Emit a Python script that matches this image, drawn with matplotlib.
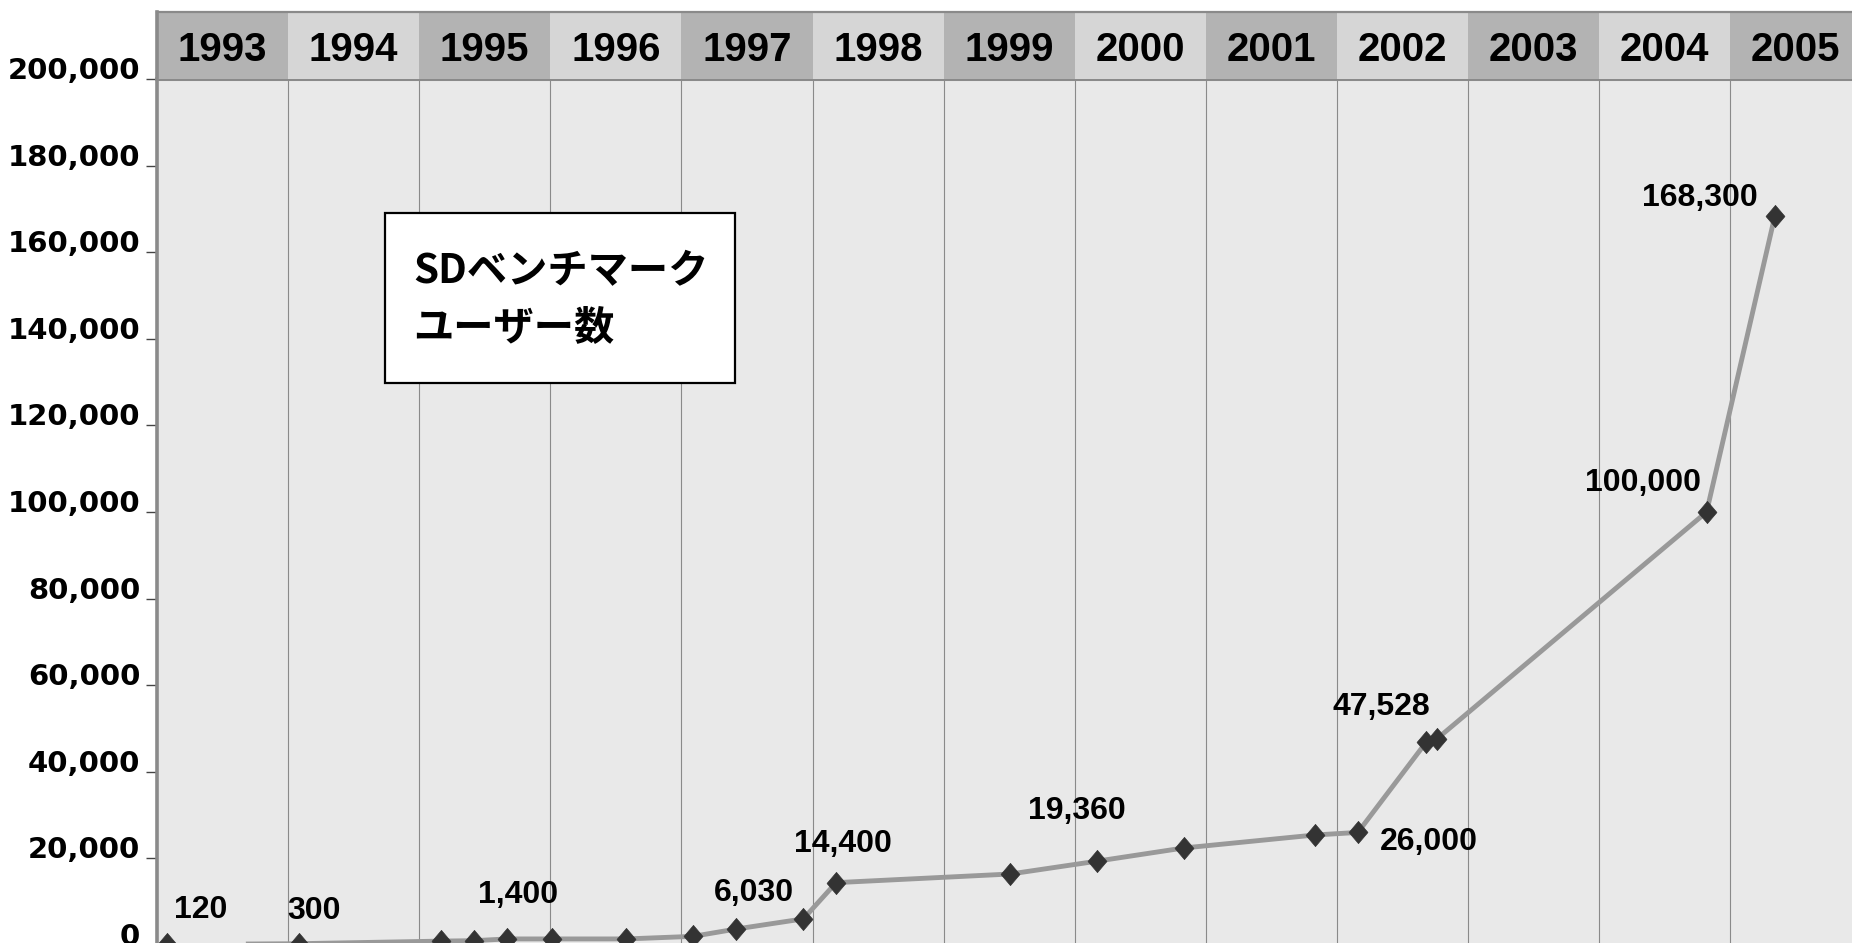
import matplotlib
matplotlib.use("Agg")
import matplotlib.pyplot as plt
from matplotlib.patches import Rectangle
from matplotlib.path import Path

# user counts (fractional year position, users)
when = [1993.08, 1994.08, 1995.17, 1995.42, 1995.67, 1996.01, 1996.58, 1997.09, 1997.42, 1997.93,
        1998.18, 1999.51, 2000.17, 2000.83, 2001.83, 2002.16, 2002.68, 2002.76, 2004.82, 2005.34]
users = [120, 300, 900, 1000, 1400, 1400, 1400, 2000, 3700, 6030,
         14400, 16400, 19360, 22400, 25400, 26000, 46800, 47528, 100000, 168300]

# which points get a value label, and where the label sits (pixels from the point)
labelled = [0, 1, 4, 9, 10, 12, 15, 17, 18, 19]
label_offsets = [(33, 34), (15, 33), (11, 44), (-49, 26), (7, 39),
                 (-20, 50), (71, -10), (-55, 32), (-64, 29), (-75, 18)]

years = list(range(1993, 2006))
y_ticks = list(range(0, 200001, 20000))
title_lines = ["SDベンチマーク", "ユーザー数"]

W, H = 1852, 943
fig = plt.figure(figsize=(W / 100, H / 100), dpi=100)

left = 157 / W
top = 1 - 79 / H
bottom = 1 - 945 / H
ax = fig.add_axes([left, bottom, 1 - left, top - bottom])
hx = fig.add_axes([left, top, 1 - left, (79 - 12) / H])

x_max = 1993 + (W - 157) / 131.1
bold = dict(family=["Liberation Sans", "DejaVu Sans"], fontweight="bold")

# plot area
ax.set_facecolor("#e9e9e9")
ax.set_xlim(1993, x_max)
ax.set_ylim(0, 200000)
for yr in years[1:]:
    ax.axvline(yr, color="#8a8a8a", lw=0.8, zorder=1)

diamond = Path([(0, 1), (0.85, 0), (0, -1), (-0.85, 0), (0, 1)],
               [Path.MOVETO, Path.LINETO, Path.LINETO, Path.LINETO, Path.CLOSEPOLY])
ax.plot(when, users, color="#999999", lw=3.5, zorder=3,
        marker=diamond, ms=16, mfc="#333333", mec="#333333", mew=0.5)

for i, (dx, dy) in zip(labelled, label_offsets):
    ax.annotate(f"{users[i]:,}", (when[i], users[i]), xytext=(dx, dy),
                textcoords="offset pixels", ha="center", va="center",
                fontsize=23, zorder=4, **bold)

ax.set_xticks([])
ax.set_yticks(y_ticks)
ax.set_yticklabels([f"{v:,}" for v in y_ticks], family="DejaVu Sans",
                   fontweight="bold", fontsize=21)
for lab in ax.get_yticklabels():
    lab.set_va("baseline")
ax.tick_params(axis="y", length=8, width=1, color="#444444", pad=4)
for side in ("right", "bottom"):
    ax.spines[side].set_visible(False)
ax.spines["left"].set_color("#8a8a8a")
ax.spines["left"].set_linewidth(2.6)
ax.spines["top"].set_color("#8a8a8a")
ax.spines["top"].set_linewidth(2.2)

# year header band
hx.set_xlim(1993, x_max)
hx.set_ylim(0, 1)
for k, yr in enumerate(years):
    shade = "#b3b3b3" if k % 2 == 0 else "#d6d6d6"
    hx.add_patch(Rectangle((yr, 0), 1, 1, facecolor=shade, edgecolor="none"))
    hx.text(yr + 0.5, 0.44, str(yr), ha="center", va="center", fontsize=29, **bold)
hx.set_xticks([])
hx.set_yticks([])
for side in ("right", "bottom"):
    hx.spines[side].set_visible(False)
hx.spines["top"].set_color("#8a8a8a")
hx.spines["top"].set_linewidth(1.6)
hx.spines["left"].set_color("#8a8a8a")
hx.spines["left"].set_linewidth(2.6)

# title box
fig.patches.append(Rectangle((385 / W, 1 - 383 / H), 350 / W, 170 / H,
                             transform=fig.transFigure, facecolor="white",
                             edgecolor="black", lw=1.6, zorder=5))
for line, yy in zip(title_lines, (272, 328)):
    fig.text(413 / W, 1 - yy / H, line, ha="left", va="center", fontsize=29,
             fontweight="bold", family=["Noto Sans CJK JP", "DejaVu Sans"], zorder=6)

fig.savefig("out.png", dpi=100)
